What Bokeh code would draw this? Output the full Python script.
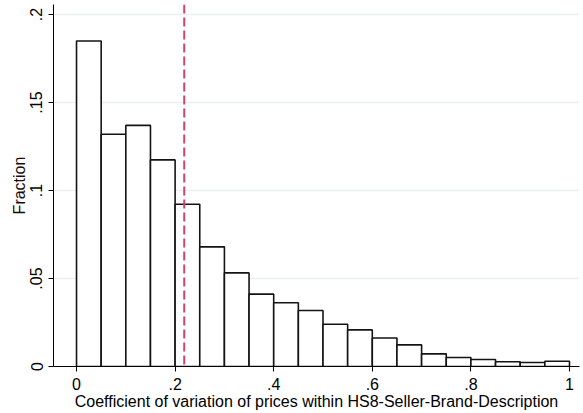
import numpy as np
from bokeh.plotting import figure
from bokeh.models import Range1d, FixedTicker, Span
from bokeh.embed import file_html
from bokeh.resources import INLINE

# Histogram data: 20 bins of width 0.05 from 0 to 1
bin_width = 0.05
bin_left = [0.00, 0.05, 0.10, 0.15, 0.20, 0.25, 0.30, 0.35, 0.40, 0.45,
            0.50, 0.55, 0.60, 0.65, 0.70, 0.75, 0.80, 0.85, 0.90, 0.95]
fraction = [0.185, 0.132, 0.137, 0.1174, 0.0922, 0.068, 0.0532, 0.0411, 0.0362, 0.0318,
            0.024, 0.0208, 0.0162, 0.0123, 0.0072, 0.0051, 0.004, 0.0027, 0.0023, 0.003]
mean_cv = 0.2185

x_ticks = [0, 0.2, 0.4, 0.6, 0.8, 1.0]
x_tick_labels = ["0", ".2", ".4", ".6", ".8", "1"]
y_ticks = [0, 0.05, 0.1, 0.15, 0.2]
y_tick_labels = ["0", ".05", ".1", ".15", ".2"]

x_title = "Coefficient of variation of prices within HS8-Seller-Brand-Description"
y_title = "Fraction"

FONT = "Liberation Sans"
FS = "16px"

p = figure(width=583, height=413, output_backend="svg", toolbar_location=None,
           x_range=Range1d(-0.0467, 1.0203), y_range=Range1d(0, 0.2057),
           min_border_left=53, min_border_right=4, min_border_top=4, min_border_bottom=47)
p.outline_line_color = None
p.background_fill_color = "white"
p.border_fill_color = "white"

# grid
p.xgrid.visible = False
p.ygrid.ticker = FixedTicker(ticks=y_ticks)
p.ygrid.grid_line_color = "#e9f0f2"
p.ygrid.grid_line_width = 1.3

left = np.array(bin_left)
p.quad(left=left, right=left + bin_width, bottom=0, top=fraction,
       fill_color="white", line_color="#141414", line_width=1.6)

p.add_layout(Span(location=mean_cv, dimension="height", line_color="#d1426f",
                  line_width=2, line_dash="9 4"))

# axes
for ax in (p.xaxis[0], p.yaxis[0]):
    ax.axis_line_color = "black"
    ax.axis_line_width = 1
    ax.major_tick_line_color = "black"
    ax.major_tick_out = 5
    ax.major_tick_in = 0
    ax.minor_tick_line_color = None
    ax.major_label_text_font = FONT
    ax.major_label_text_font_size = FS
    ax.major_label_text_color = "black"
    ax.axis_label_text_font = FONT
    ax.axis_label_text_font_size = FS
    ax.axis_label_text_font_style = "normal"
    ax.axis_label_text_color = "black"

p.xaxis.ticker = FixedTicker(ticks=x_ticks)
p.xaxis.major_label_overrides = {t: l for t, l in zip(x_ticks, x_tick_labels)}
p.xaxis.major_label_standoff = 6
p.xaxis.axis_label = x_title
p.xaxis.axis_label_standoff = 0

p.yaxis.ticker = FixedTicker(ticks=y_ticks)
p.yaxis.major_label_overrides = {t: l for t, l in zip(y_ticks, y_tick_labels)}
p.yaxis.major_label_orientation = "vertical"
p.yaxis.major_label_standoff = 6
p.yaxis.axis_label = y_title
p.yaxis.axis_label_standoff = 0
p.yaxis.axis_label_text_color = "#1a0a0a"

open("out.html", "w").write(file_html(p, INLINE))
